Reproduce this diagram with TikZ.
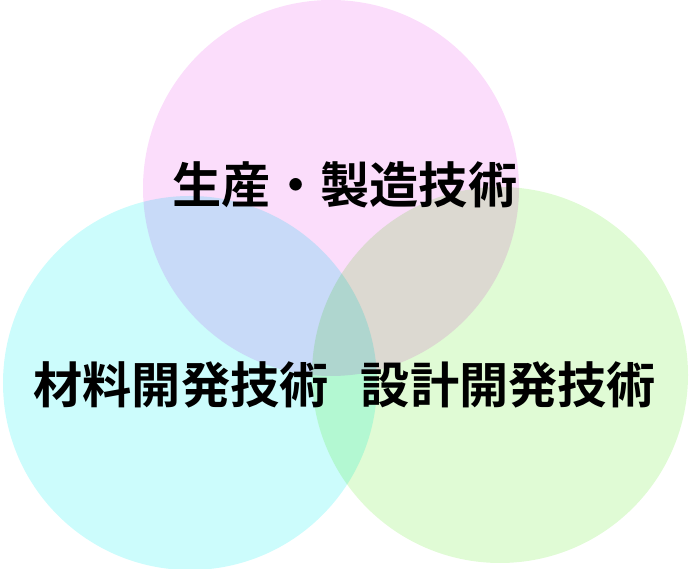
\documentclass[tikz,border=0pt]{standalone}
\usepackage{fontspec}
\newfontfamily\jpfont{Noto Sans CJK JP}[BoldFont={Noto Sans CJK JP Bold}]
\usepackage{tkz-euclide}
\usepackage{tikz}
\usetikzlibrary{calc}
\tikzset{
  fieldlabel/.style={font=\jpfont\bfseries\fontsize{28pt}{30pt}\selectfont,
    inner sep=0pt, text=black}
}
\begin{document}
\begin{tikzpicture}
         \useasboundingbox (0,0) rectangle (13.8,11.38);
         \tkzDefPoint(6.62,7.62){P}
         \tkzDefPoint(3.80,3.72){M}
         \tkzDefPoint(10.00,3.88){D}
         \begin{scope}[blend group=multiply]
         \fill[color={rgb,255:red,251;green,221;blue,251}]%
         (P) circle (3.76);
         \fill[color={rgb,255:red,204;green,252;blue,252}]%
         (M) circle (3.74);
         \fill[color={rgb,255:red,224;green,251;blue,213}]%
         (D) circle (3.76);
         \end{scope}
         \node[fieldlabel] (prod) at (6.90,7.68) {生産・製造技術};
         \node[fieldlabel] (mat) at (3.62,3.68) {材料開発技術};
         \node[fieldlabel] (des) at (10.17,3.68) {設計開発技術};
         \end{tikzpicture}
\end{document}
